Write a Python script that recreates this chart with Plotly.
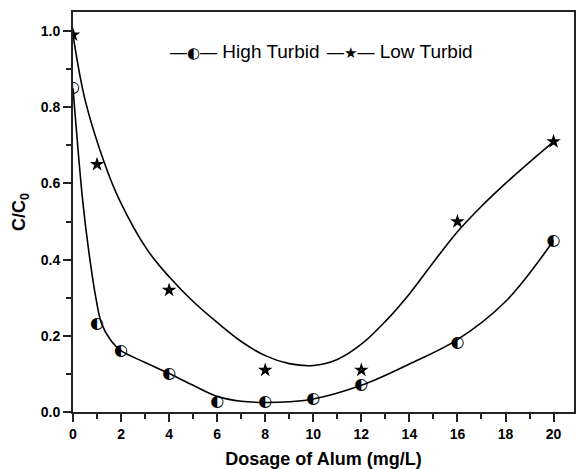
import plotly.graph_objects as go

# Measured data points
dose = [0, 1, 2, 4, 6, 8, 10, 12, 16, 20]
high_turbid = [0.85, 0.23, 0.16, 0.10, 0.025, 0.025, 0.033, 0.07, 0.18, 0.45]
dose_low = [0, 1, 4, 8, 12, 16, 20]
low_turbid = [0.99, 0.65, 0.32, 0.11, 0.11, 0.50, 0.71]

# Fitted curves
high_fit_x = [0, 0.40, 0.65, 0.95, 1.2, 1.6, 2.0, 3, 4, 5, 6, 7, 8, 9, 10, 12, 14, 16, 18, 20]
high_fit_y = [0.85, 0.557, 0.425, 0.30, 0.23, 0.186, 0.161, 0.13, 0.101, 0.07, 0.041,
              0.028, 0.025, 0.027, 0.034, 0.07, 0.126, 0.19, 0.29, 0.45]
low_fit_x = [0, 0.5, 1.3, 1.93, 3.1, 4, 5, 6, 7, 8, 9, 10, 11, 12, 13, 14, 15, 16, 17, 18, 19, 20]
low_fit_y = [0.99, 0.82, 0.655, 0.557, 0.425, 0.355, 0.29, 0.235, 0.185, 0.148, 0.127,
             0.122, 0.138, 0.178, 0.238, 0.31, 0.393, 0.473, 0.54, 0.60, 0.656, 0.71]

x_ticks = [0, 2, 4, 6, 8, 10, 12, 14, 16, 18, 20]
y_ticks = [0.0, 0.2, 0.4, 0.6, 0.8, 1.0]

FONT = "Liberation Sans, Arial, sans-serif"

fig = go.Figure()
for fx, fy in ((high_fit_x, high_fit_y), (low_fit_x, low_fit_y)):
    fig.add_trace(go.Scatter(x=fx, y=fy, mode="lines",
                             line=dict(color="black", width=1.6, shape="spline", smoothing=1.0),
                             showlegend=False, hoverinfo="skip"))
fig.add_trace(go.Scatter(x=dose, y=high_turbid, mode="text", text=["◐"] * len(dose),
                         textposition="middle center",
                         textfont=dict(family="DejaVu Sans", size=16, color="black"),
                         name="High Turbid", showlegend=False))
fig.add_trace(go.Scatter(x=dose_low, y=low_turbid, mode="markers",
                         marker=dict(symbol="star", size=11, color="black"),
                         name="Low Turbid", showlegend=False))

dash = '<span style="font-size:17px">—</span>'
fig.add_annotation(xref="paper", yref="paper", x=0.19, y=0.9, xanchor="left", yanchor="middle",
                   showarrow=False,
                   text=dash + '<span style="font-family:DejaVu Sans;font-size:15px">◐</span>' + dash + " High Turbid",
                   font=dict(family=FONT, size=19, color="black"))
fig.add_annotation(xref="paper", yref="paper", x=0.503, y=0.9, xanchor="left", yanchor="middle",
                   showarrow=False,
                   text=dash + '<span style="font-family:DejaVu Sans;font-size:15px">★</span>' + dash + " Low Turbid",
                   font=dict(family=FONT, size=19, color="black"))

axis_common = dict(showline=True, linewidth=2, linecolor="#222", mirror=True,
                   ticks="outside", ticklen=8, tickwidth=1.5, tickcolor="#222",
                   showgrid=False, zeroline=False,
                   tickfont=dict(family=FONT, size=14, color="black"))

fig.update_xaxes(range=[0, 20.85], tickvals=x_ticks, ticktext=[f"<b>{v}</b>" for v in x_ticks],
                 minor=dict(dtick=1, ticks="outside", ticklen=5, tickwidth=1.5, tickcolor="#222"),
                 title=dict(text="<b>Dosage of Alum (mg/L)</b>", font=dict(family=FONT, size=18, color="black"),
                            standoff=12),
                 **axis_common)
fig.update_yaxes(range=[0, 1.05], tickvals=y_ticks, ticktext=[f"<b>{v:.1f}</b>" for v in y_ticks],
                 minor=dict(dtick=0.1, tick0=0, ticks="outside", ticklen=5, tickwidth=1.5, tickcolor="#222"),
                 title=dict(text="<b>C/C<sub>0</sub></b>", font=dict(family=FONT, size=18, color="black"),
                            standoff=10),
                 **axis_common)

fig.update_layout(width=576, height=469, margin=dict(l=73, r=0, t=12, b=57),
                  paper_bgcolor="white", plot_bgcolor="white", showlegend=False)

fig.write_html("out.html")
